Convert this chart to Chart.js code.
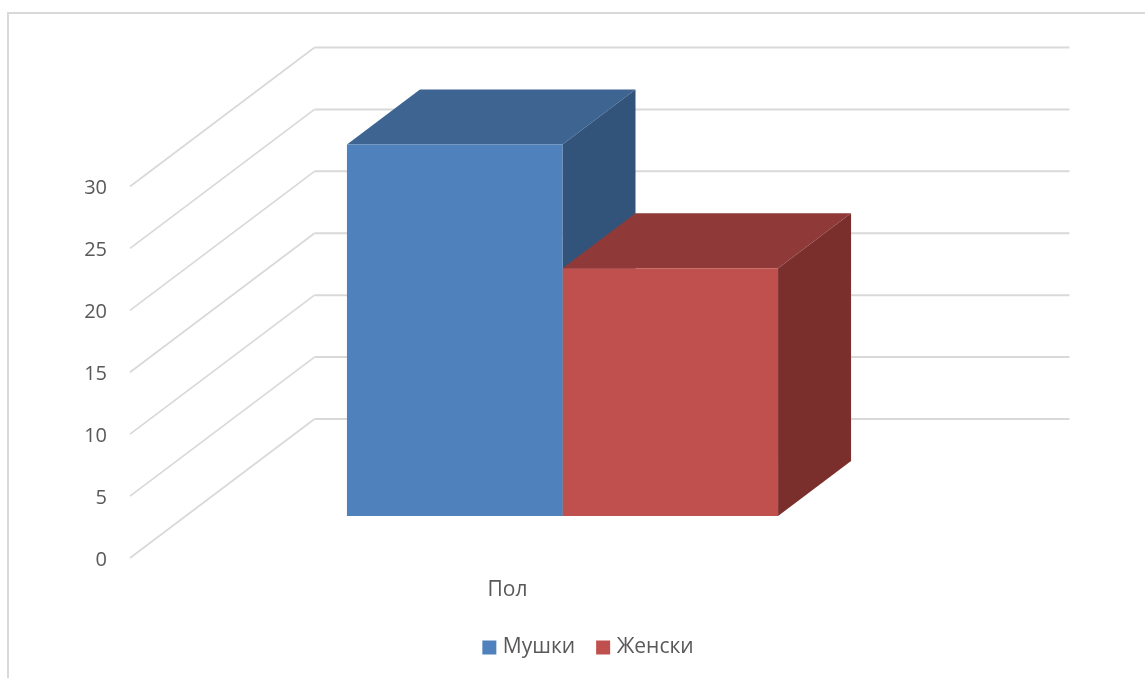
<!DOCTYPE html>
<html lang="en">
<head>
    <meta charset="UTF-8">
    <title>Пол</title>
    <script src="https://cdn.jsdelivr.net/npm/chart.js"></script>
    <style>
        html, body { margin: 0; padding: 0; background: #fff; overflow: hidden; }
        #frame { position: absolute; left: 7px; top: 12px; width: 1140px; height: 670px;
                 border-left: 2px solid #d9d9d9; border-top: 2px solid #d9d9d9; }
        #wrap { position: absolute; left: 0; top: 0; width: 1145px; height: 678px; }
    </style>
</head>
<body>
    <div id="frame"></div>
    <div id="wrap"><canvas id="chart" width="1145" height="678"></canvas></div>

    <script>
        const categories = ["Пол"];
        const maleValues = [30];
        const femaleValues = [20];
        const seriesNames = ["Мушки", "Женски"];

        const textColor = "#595959";
        const gridColor = "#d9d9d9";
        const fontFamily = "'Open Sans', sans-serif";

        // 3D look: offsets of the back wall and of the bars from the front plane
        const wall = { dx: 184.5, dy: 139 };
        const barShift = { dx: 55, dy: 42 };
        const barDepth = { dx: 73, dy: 55 };
        const faces = [
            { top: "#3e6491", side: "#32537a" },
            { top: "#8f3a38", side: "#7a2f2d" }
        ];

        function fillPoly(ctx, color, pts) {
            ctx.fillStyle = color;
            ctx.beginPath();
            pts.forEach((p, i) => i ? ctx.lineTo(p[0], p[1]) : ctx.moveTo(p[0], p[1]));
            ctx.closePath();
            ctx.fill();
        }

        const depthPlugin = {
            id: "depth",
            beforeDatasetsDraw(chart) {
                const ctx = chart.ctx;
                const x = chart.scales.x, y = chart.scales.y;

                // floor-to-wall diagonals and the back wall lines
                ctx.save();
                ctx.strokeStyle = gridColor;
                ctx.lineCap = "butt";
                y.ticks.forEach(t => {
                    const py = y.getPixelForValue(t.value);
                    ctx.lineWidth = 1.75;
                    ctx.beginPath();
                    ctx.moveTo(x.left, py);
                    ctx.lineTo(x.left + wall.dx, py - wall.dy);
                    ctx.stroke();
                    ctx.lineWidth = 2;
                    ctx.beginPath();
                    ctx.moveTo(x.left + wall.dx, py - wall.dy);
                    ctx.lineTo(x.right + wall.dx, py - wall.dy);
                    ctx.stroke();
                });
                ctx.restore();

                // everything the bars draw from here on sits a bit into the depth
                ctx.save();
                ctx.translate(barShift.dx, barShift.dy * -1);
                chart.data.datasets.forEach((ds, i) => {
                    const bar = chart.getDatasetMeta(i).data[0];
                    const l = bar.x - bar.width / 2, r = bar.x + bar.width / 2;
                    const d = barDepth;
                    fillPoly(ctx, faces[i].top, [[l, bar.y], [r, bar.y], [r + d.dx, bar.y - d.dy], [l + d.dx, bar.y - d.dy]]);
                    fillPoly(ctx, faces[i].side, [[r, bar.y], [r + d.dx, bar.y - d.dy], [r + d.dx, bar.base - d.dy], [r, bar.base]]);
                });
            },
            afterDatasetsDraw(chart) {
                chart.ctx.restore();
            }
        };

        new Chart(document.getElementById("chart"), {
            type: "bar",
            data: {
                labels: categories,
                datasets: [
                    { label: seriesNames[0], data: maleValues, backgroundColor: "#4f81bd", clip: false },
                    { label: seriesNames[1], data: femaleValues, backgroundColor: "#c0504d", clip: false }
                ]
            },
            options: {
                responsive: false,
                animation: false,
                barPercentage: 1,
                categoryPercentage: 0.571,
                layout: { padding: { left: 35, top: 186.5, bottom: 10 } },
                plugins: {
                    tooltip: { enabled: false },
                    legend: {
                        position: "bottom",
                        labels: {
                            usePointStyle: true,
                            pointStyle: "rect",
                            boxWidth: 6,
                            boxHeight: 14,
                            padding: 25,
                            color: textColor,
                            font: { family: fontFamily, size: 21 }
                        }
                    }
                },
                scales: {
                    x: {
                        grid: { display: false },
                        border: { display: false },
                        afterFit(scale) { scale.height = 54; },
                        ticks: { color: textColor, padding: 11, font: { family: fontFamily, size: 21 } }
                    },
                    y: {
                        min: 0,
                        max: 30,
                        grid: { display: false, drawTicks: false },
                        border: { display: false },
                        afterFit(scale) { scale.width = 95; },
                        ticks: { stepSize: 5, color: textColor, padding: 23, labelOffset: 2, font: { family: fontFamily, size: 20 } }
                    },
                    // empty axis, only holds the room the back wall runs into
                    yBack: {
                        position: "right",
                        min: 0,
                        max: 30,
                        grid: { display: false, drawTicks: false },
                        border: { display: false },
                        ticks: { display: false },
                        afterFit(scale) { scale.width = 260; }
                    }
                }
            },
            plugins: [depthPlugin]
        });
    </script>
</body>
</html>
